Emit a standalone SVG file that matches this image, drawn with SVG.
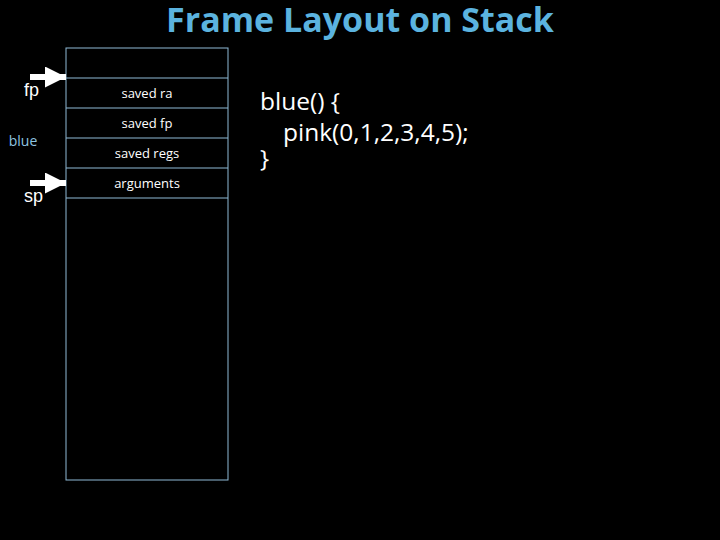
<svg xmlns="http://www.w3.org/2000/svg" width="720" height="540" viewBox="0 0 720 540">
<style>
.cell{fill:none;stroke:#8fbad6;stroke-width:1}
.lbl{font-family:"Open Sans",sans-serif;font-size:13px;fill:#fff;text-anchor:middle}
.reg{font-family:"Liberation Sans",sans-serif;font-size:18px;fill:#fff}
.code{font-family:"Open Sans",sans-serif;font-size:24.5px;fill:#fff}
</style>
<defs><marker id="ah" viewBox="0 0 10 10" refX="10" refY="5" markerWidth="3.5" markerHeight="3.5" orient="auto"><path d="M0,0L10,5L0,10z" fill="#fff"/></marker></defs>
<rect width="720" height="540" fill="#000"/>
<text x="360" y="32" font-family="Open Sans,sans-serif" font-weight="bold" font-size="34" fill="#5bb3df" text-anchor="middle">Frame Layout on Stack</text>
<g id="stack">
<rect class="cell" x="66" y="48" width="162" height="432"/>
<line class="cell" x1="66" y1="78" x2="228" y2="78"/>
<line class="cell" x1="66" y1="108" x2="228" y2="108"/>
<line class="cell" x1="66" y1="138" x2="228" y2="138"/>
<line class="cell" x1="66" y1="168" x2="228" y2="168"/>
<line class="cell" x1="66" y1="198" x2="228" y2="198"/>
<text class="lbl" x="147" y="98">saved ra</text>
<text class="lbl" x="147" y="128">saved fp</text>
<text class="lbl" x="147" y="158">saved regs</text>
<text class="lbl" x="147" y="188">arguments</text>
</g>
<g id="connectors">
<line x1="30" y1="77" x2="66" y2="77" stroke="#fff" stroke-width="6" marker-end="url(#ah)"/>
<line x1="30" y1="183" x2="66" y2="183" stroke="#fff" stroke-width="6" marker-end="url(#ah)"/>
</g>
<g id="fp"><text class="reg" x="24" y="96">fp</text></g>
<g id="sp"><text class="reg" x="24" y="202">sp</text></g>
<g id="blue"><text x="23" y="146" font-family="Open Sans,sans-serif" font-size="14" fill="#8fc4e0" text-anchor="middle">blue</text></g>
<g id="code">
<text class="code" x="260" y="110">blue() {</text>
<text class="code" x="283" y="141">pink(0,1,2,3,4,5);</text>
<text class="code" x="260" y="167">}</text>
</g>
</svg>
